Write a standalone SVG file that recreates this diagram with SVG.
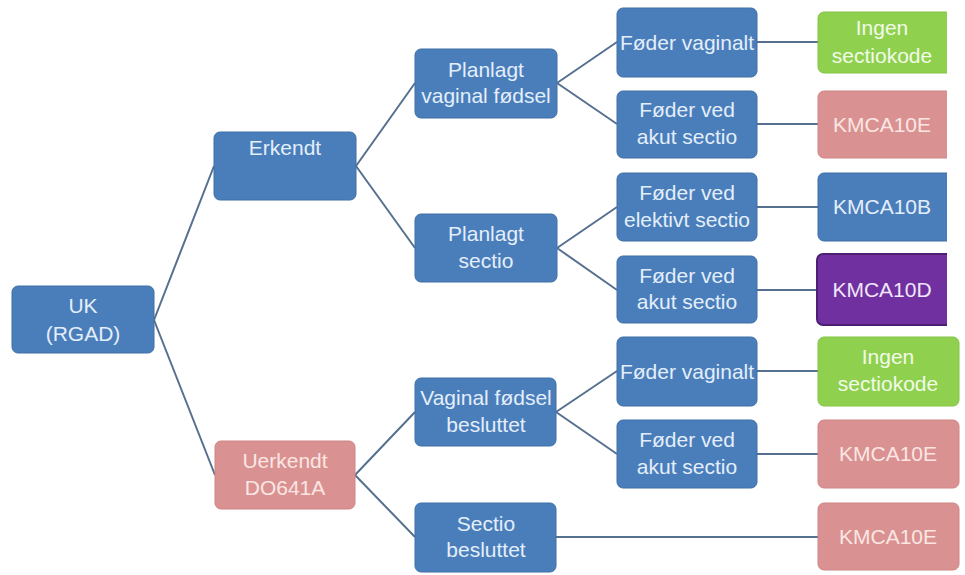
<svg xmlns="http://www.w3.org/2000/svg" width="965" height="575" viewBox="0 0 965 575">
<defs>
<style>
.b{fill:#4a7ebb;stroke:#3f6fa6;stroke-width:1}
.p{fill:#d99291;stroke:#cf8584;stroke-width:1}
.g{fill:#8fd14f;stroke:#84c446;stroke-width:1}
.v{fill:#7030a0;stroke:#4b1f74;stroke-width:2}
text{font-family:"Liberation Sans",Arial,sans-serif;font-size:21px;text-anchor:middle}
.tb{fill:#e4eefa}
.tp{fill:#fbe6e4}
.tg{fill:#f2fbe8}
.tv{fill:#f1e6fa}
.c{stroke:#56708f;stroke-width:2;fill:none}
</style>
<clipPath id="cr"><rect x="0" y="0" width="947" height="575"/></clipPath>
</defs>
<g id="connectors">
<path class="c" d="M154 320 L214 166 M154 320 L215 475"/>
<path class="c" d="M356 166 L415 83 M356 166 L415 248"/>
<path class="c" d="M557 83 L617 42 M557 83 L617 124"/>
<path class="c" d="M557 248 L617 207 M557 248 L617 290"/>
<path class="c" d="M355 475 L415 412 M355 475 L415 537"/>
<path class="c" d="M556 412 L617 371 M556 412 L617 454"/>
<path class="c" d="M757 42 L818 42 M757 124 L818 124 M757 207 L818 207 M757 290 L818 290 M757 371 L818 371 M757 454 L818 454 M556 537 L818 537"/>
</g>
<g id="uk"><rect class="b" x="12" y="286" width="142" height="67" rx="6"/><text class="tb" x="83" y="313">UK</text><text class="tb" x="83" y="341">(RGAD)</text></g>
<g id="erkendt"><rect class="b" x="214" y="132" width="142" height="68" rx="6"/><text class="tb" x="285" y="155">Erkendt</text></g>
<g id="uerkendt"><rect class="p" x="215" y="441" width="140" height="68" rx="6"/><text class="tp" x="285" y="468">Uerkendt</text><text class="tp" x="285" y="495">DO641A</text></g>
<g id="planlagt-vaginal"><rect class="b" x="415" y="49" width="142" height="69" rx="6"/><text class="tb" x="486" y="77">Planlagt</text><text class="tb" x="486" y="103">vaginal fødsel</text></g>
<g id="planlagt-sectio"><rect class="b" x="415" y="214" width="142" height="68" rx="6"/><text class="tb" x="486" y="241">Planlagt</text><text class="tb" x="486" y="268">sectio</text></g>
<g id="vaginal-besluttet"><rect class="b" x="415" y="378" width="141" height="68" rx="6"/><text class="tb" x="486" y="405">Vaginal fødsel</text><text class="tb" x="486" y="432">besluttet</text></g>
<g id="sectio-besluttet"><rect class="b" x="415" y="503" width="141" height="69" rx="6"/><text class="tb" x="486" y="531">Sectio</text><text class="tb" x="486" y="557">besluttet</text></g>
<g id="foder-vaginalt-1"><rect class="b" x="617" y="8" width="140" height="69" rx="6"/><text class="tb" x="687" y="50">Føder vaginalt</text></g>
<g id="foder-akut-1"><rect class="b" x="617" y="91" width="140" height="67" rx="6"/><text class="tb" x="687" y="117">Føder ved</text><text class="tb" x="687" y="144">akut sectio</text></g>
<g id="foder-elektivt"><rect class="b" x="617" y="173" width="140" height="68" rx="6"/><text class="tb" x="687" y="200">Føder ved</text><text class="tb" x="687" y="227">elektivt sectio</text></g>
<g id="foder-akut-2"><rect class="b" x="617" y="256" width="140" height="67" rx="6"/><text class="tb" x="687" y="283">Føder ved</text><text class="tb" x="687" y="309">akut sectio</text></g>
<g id="foder-vaginalt-2"><rect class="b" x="617" y="337" width="140" height="69" rx="6"/><text class="tb" x="687" y="379">Føder vaginalt</text></g>
<g id="foder-akut-3"><rect class="b" x="617" y="420" width="140" height="68" rx="6"/><text class="tb" x="687" y="447">Føder ved</text><text class="tb" x="687" y="474">akut sectio</text></g>
<g id="ingen-1" clip-path="url(#cr)"><rect class="g" x="818" y="12" width="150" height="61" rx="6"/><text class="tg" x="882" y="35">Ingen</text><text class="tg" x="882" y="63">sectiokode</text></g>
<g id="kmca10e-1" clip-path="url(#cr)"><rect class="p" x="818" y="91" width="150" height="67" rx="6"/><text class="tp" x="882" y="132">KMCA10E</text></g>
<g id="kmca10b" clip-path="url(#cr)"><rect class="b" x="818" y="173" width="150" height="68" rx="6"/><text class="tb" x="882" y="214">KMCA10B</text></g>
<g id="kmca10d" clip-path="url(#cr)"><rect class="v" x="817" y="254" width="150" height="71" rx="6"/><text class="tv" x="882" y="297">KMCA10D</text></g>
<g id="ingen-2"><rect class="g" x="818" y="337" width="141" height="69" rx="6"/><text class="tg" x="888" y="364">Ingen</text><text class="tg" x="888" y="391">sectiokode</text></g>
<g id="kmca10e-2"><rect class="p" x="818" y="420" width="141" height="68" rx="6"/><text class="tp" x="888" y="461">KMCA10E</text></g>
<g id="kmca10e-3"><rect class="p" x="818" y="503" width="141" height="67" rx="6"/><text class="tp" x="888" y="544">KMCA10E</text></g>
</svg>
